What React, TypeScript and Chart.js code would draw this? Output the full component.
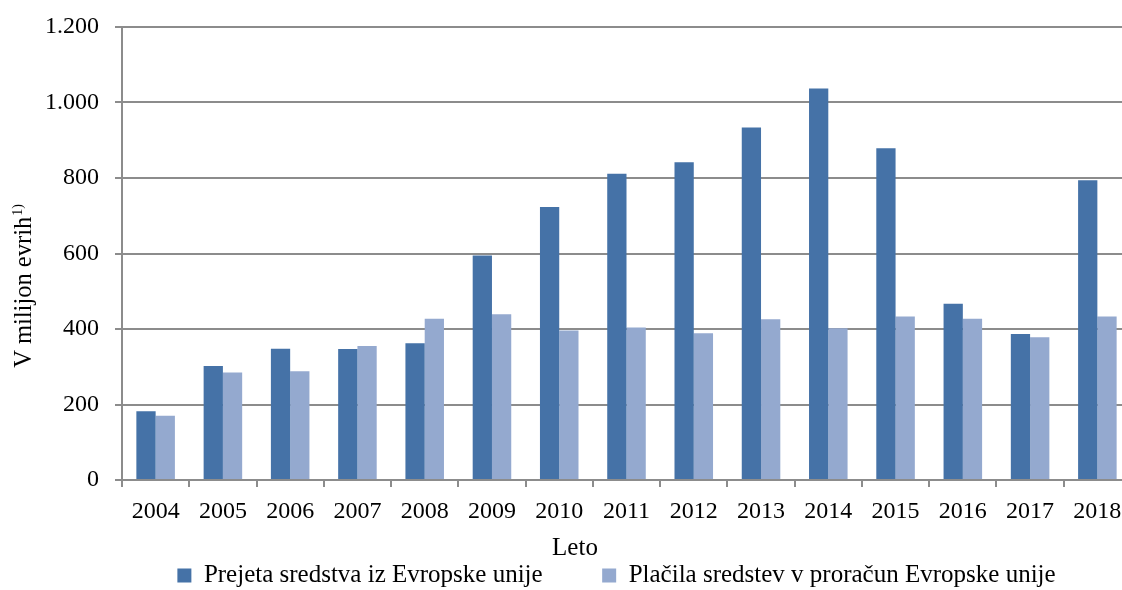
import { useEffect, useRef } from 'react';
import { Chart, registerables } from 'chart.js';

Chart.register(...registerables);

const years = ['2004', '2005', '2006', '2007', '2008', '2009', '2010', '2011', '2012', '2013', '2014', '2015', '2016', '2017', '2018'];
const prejeta = [182, 302, 348, 347, 362, 595, 723, 811, 842, 934, 1037, 879, 467, 387, 794];
const placila = [170, 285, 288, 355, 427, 439, 396, 404, 389, 426, 402, 433, 427, 378, 433];
const seriesNames = ['Prejeta sredstva iz Evropske unije', 'Plačila sredstev v proračun Evropske unije'];
const yMin = 0;
const yMax = 1200;
const yStep = 200;
const xTitle = 'Leto';
const yTitle = 'V milijon evrih';
const yTitleSup = '1)';

const FONT = '"Liberation Serif", "Times New Roman", serif';
const GRID = '#8c8c8c';
const DARK = '#4572A7';
const LIGHT = '#94A9CF';

const W = 1233;
const H = 598;
const RIGHT_W = 102;
const X_AXIS_H = 23.5;
const LEGEND_PAD = 59.5;

const fmt = (v: number) => String(v).replace(/\B(?=(\d{3})+(?!\d))/g, '.');

const axisTitles = {
  id: 'axisTitles',
  afterDraw(chart: any) {
    const ctx = chart.ctx as CanvasRenderingContext2D;
    ctx.save();
    ctx.fillStyle = '#000';
    ctx.font = `25px ${FONT}`;
    ctx.textAlign = 'center';
    ctx.textBaseline = 'alphabetic';
    ctx.fillText(xTitle, 575, 555);
    ctx.restore();

    ctx.save();
    ctx.fillStyle = '#000';
    ctx.translate(31, 286);
    ctx.rotate(-Math.PI / 2);
    ctx.textAlign = 'left';
    ctx.textBaseline = 'alphabetic';
    ctx.font = `24.5px ${FONT}`;
    const m = ctx.measureText(yTitle).width;
    ctx.font = `14px ${FONT}`;
    const s = ctx.measureText(yTitleSup).width;
    const start = -(m + s + 1) / 2;
    ctx.font = `24.5px ${FONT}`;
    ctx.fillText(yTitle, start, 0);
    ctx.font = `14px ${FONT}`;
    ctx.fillText(yTitleSup, start + m + 1, -9);
    ctx.restore();
  },
};

export default function App() {
  const ref = useRef<HTMLCanvasElement>(null);

  useEffect(() => {
    if (!ref.current) return;
    const chart = new Chart(ref.current, {
      type: 'bar',
      data: {
        labels: years,
        datasets: [
          { label: seriesNames[0], data: prejeta, backgroundColor: DARK, borderWidth: 0 },
          { label: seriesNames[1], data: placila, backgroundColor: LIGHT, borderWidth: 0 },
        ],
      },
      options: {
        animation: false,
        responsive: false,
        devicePixelRatio: 1,
        datasets: { bar: { categoryPercentage: 0.573, barPercentage: 1 } },
        layout: { padding: { top: 27, left: 0, right: 0, bottom: 0 } },
        plugins: {
          tooltip: { enabled: false },
          title: { display: false },
          legend: {
            position: 'bottom',
            align: 'center',
            labels: {
              boxWidth: 14,
              boxHeight: 14,
              padding: LEGEND_PAD,
              color: '#000',
              font: { family: FONT, size: 25 },
            },
          },
        },
        scales: {
          x: {
            type: 'category',
            grid: { offset: true, drawOnChartArea: false, drawTicks: true, tickLength: 7, color: GRID, lineWidth: 2 },
            border: { display: true, color: GRID, width: 2 },
            ticks: { color: '#000', font: { family: FONT, size: 24 }, mirror: true, padding: -46, maxRotation: 0, autoSkip: false },
            afterFit: (s: any) => { s.height = X_AXIS_H; s.paddingLeft = 0; s.paddingRight = 0; },
          },
          y: {
            type: 'linear',
            min: yMin,
            max: yMax,
            ticks: { stepSize: yStep, color: '#000', font: { family: FONT, size: 24 }, padding: 16, callback: (v: any) => fmt(Number(v)) },
            grid: { color: GRID, lineWidth: 2, tickLength: 7 },
            border: { display: true, color: GRID, width: 2 },
            afterFit: (s: any) => { s.width = 122; s.paddingTop = 0; s.paddingBottom = 0; },
          },
          yRight: {
            type: 'linear',
            position: 'right',
            display: true,
            grid: { display: false },
            ticks: { display: false },
            border: { display: false },
            afterFit: (s: any) => { s.width = RIGHT_W; s.paddingTop = 0; s.paddingBottom = 0; },
          },
        },
      },
      plugins: [axisTitles],
    } as any);
    return () => chart.destroy();
  }, []);

  return (
    <div style={{ position: 'fixed', left: 0, top: 0, width: 1122, height: 590, overflow: 'hidden', background: '#fff' }}>
      <canvas ref={ref} width={W} height={H} style={{ display: 'block' }} />
    </div>
  );
}
